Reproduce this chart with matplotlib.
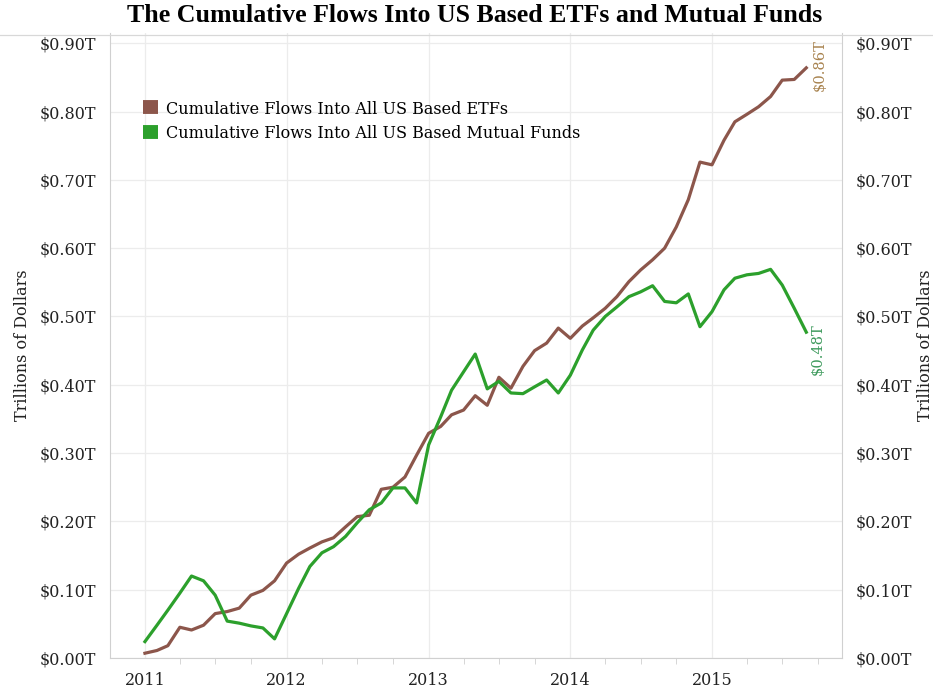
import matplotlib.pyplot as plt
import matplotlib.dates as mdates
import pandas as pd

# monthly points, Jan 2011 .. Sep 2015 (trillions of dollars)
months = pd.date_range('2011-01-01', periods=57, freq='MS')

etf_flows = [
    0.007, 0.011, 0.018, 0.045, 0.041, 0.048, 0.065, 0.068, 0.073, 0.092, 0.099, 0.113,
    0.139, 0.152, 0.161, 0.170, 0.176, 0.192, 0.207, 0.209, 0.247, 0.250, 0.265, 0.297,
    0.329, 0.339, 0.356, 0.363, 0.384, 0.370, 0.411, 0.395, 0.427, 0.450, 0.461, 0.483,
    0.468, 0.486, 0.498, 0.512, 0.529, 0.551, 0.568, 0.583, 0.600, 0.631, 0.671, 0.726,
    0.722, 0.758, 0.785, 0.796, 0.807, 0.822, 0.846, 0.847, 0.864,
]
mf_flows = [
    0.024, 0.048, 0.070, 0.095, 0.120, 0.113, 0.092, 0.054, 0.051, 0.047, 0.044, 0.028,
    0.065, 0.102, 0.134, 0.154, 0.163, 0.178, 0.198, 0.217, 0.227, 0.249, 0.249, 0.227,
    0.312, 0.353, 0.392, 0.419, 0.445, 0.394, 0.405, 0.388, 0.387, 0.397, 0.407, 0.388,
    0.414, 0.451, 0.480, 0.500, 0.514, 0.529, 0.536, 0.545, 0.522, 0.520, 0.533, 0.485,
    0.507, 0.539, 0.556, 0.561, 0.563, 0.569, 0.546, 0.512, 0.477,
]
y_ticks = [0.0, 0.1, 0.2, 0.3, 0.4, 0.5, 0.6, 0.7, 0.8, 0.9]
tick_labels = ['$%.2fT' % v for v in y_ticks]

BROWN = '#8c564b'
GREEN = '#2ca02c'
SERIF = 'DejaVu Serif'

fig = plt.figure(figsize=(9.33, 6.91), dpi=100)
ax = fig.add_axes([110 / 933, 33 / 691, 732 / 933, 625 / 691])

ax.plot(months, etf_flows, color=BROWN, lw=2.3, solid_joinstyle='round',
        label='Cumulative Flows Into All US Based ETFs')
ax.plot(months, mf_flows, color=GREEN, lw=2.3, solid_joinstyle='round',
        label='Cumulative Flows Into All US Based Mutual Funds')

ax.set_xlim(pd.Timestamp('2010-10-03'), pd.Timestamp('2015-12-02'))
ax.set_ylim(0, 0.915)
ax.xaxis.set_major_locator(mdates.YearLocator())
ax.xaxis.set_major_formatter(mdates.DateFormatter('%Y'))
ax.xaxis.set_minor_locator(mdates.MonthLocator(bymonth=[1, 4, 7, 10]))
ax.set_yticks(y_ticks)
ax.set_yticklabels(tick_labels)

ax.grid(True, color='#ececec', lw=0.9)
ax.set_axisbelow(True)
ax.spines['top'].set_visible(False)
for s in ['left', 'right', 'bottom']:
    ax.spines[s].set_color('#d0d0d0')
ax.tick_params(axis='y', length=0, pad=10, labelsize=11.5, labelcolor='#222222')
ax.tick_params(axis='x', which='major', length=0, pad=10, labelsize=11.5, labelcolor='#222222')
ax.tick_params(axis='x', which='minor', length=4, color='#d0d0d0')
for lab in ax.get_xticklabels() + ax.get_yticklabels():
    lab.set_family(SERIF)
ax.set_ylabel('Trillions of Dollars', family=SERIF, fontsize=11.5, color='#222222', labelpad=6)

ax2 = ax.twinx()
ax2.set_ylim(ax.get_ylim())
ax2.set_yticks(y_ticks)
ax2.set_yticklabels(tick_labels, family=SERIF)
ax2.tick_params(axis='y', length=0, pad=10, labelsize=11.5, labelcolor='#222222')
for s in ax2.spines.values():
    s.set_visible(False)
ax2.set_ylabel('Trillions of Dollars', family=SERIF, fontsize=11.5, color='#222222',
               rotation=90, labelpad=3)

# end labels
ax.annotate('$%.2fT' % etf_flows[-1], (months[-1], etf_flows[-1]), xytext=(10, 2),
            textcoords='offset points', rotation=90, ha='center', va='center',
            family=SERIF, fontsize=10.5, color='#a8834f')
ax.annotate('$%.2fT' % mf_flows[-1], (months[-1], mf_flows[-1]), xytext=(8, -12),
            textcoords='offset points', rotation=90, ha='center', va='center',
            family=SERIF, fontsize=10.5, color='#3d9a5c')

leg = ax.legend(loc='upper left', bbox_to_anchor=(0.026, 0.915), frameon=False,
                handlelength=0.9, handleheight=0.9, handletextpad=0.5, labelspacing=0.45,
                prop={'family': SERIF, 'size': 11.5})
for h in leg.legend_handles:
    h.set_linewidth(10)
    h.set_solid_capstyle('butt')

fig.add_artist(plt.Line2D([0, 1], [1 - 35 / 691, 1 - 35 / 691], color='#d8d8d8', lw=0.9,
                          transform=fig.transFigure))
fig.text(0.509, 1 - 16 / 691, 'The Cumulative Flows Into US Based ETFs and Mutual Funds',
         ha='center', va='center', family='Liberation Serif', weight='bold', fontsize=18.6)

fig.savefig('out.png', dpi=100)
